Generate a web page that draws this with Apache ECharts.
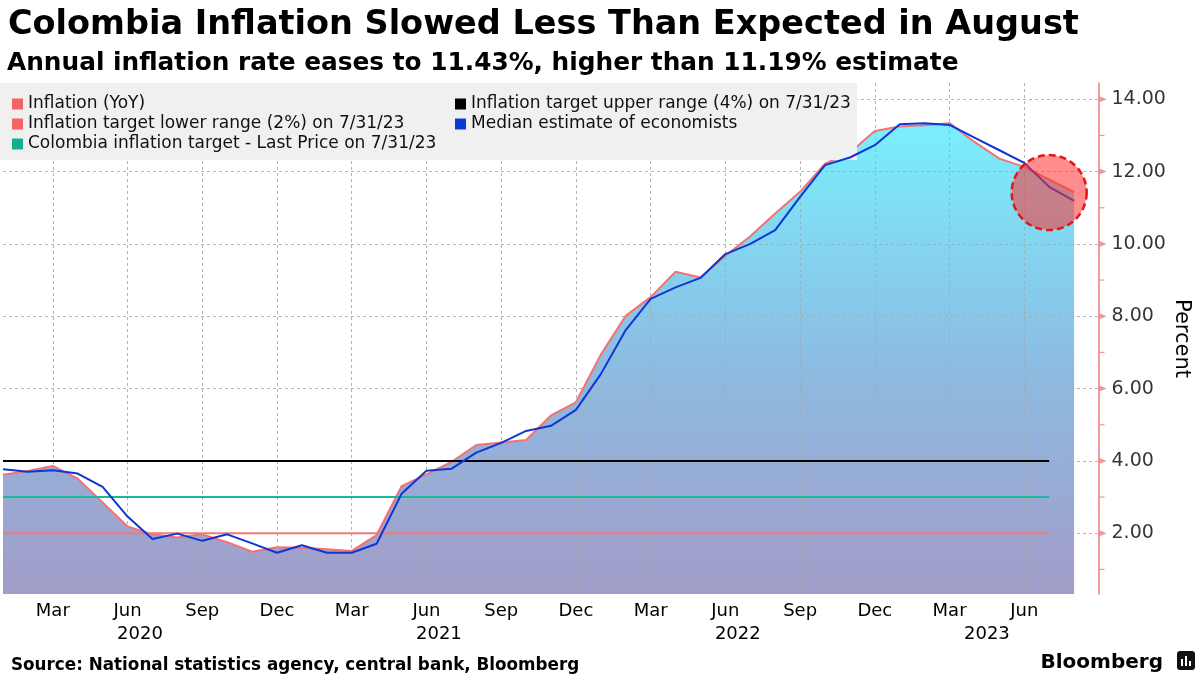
<!DOCTYPE html>
<html>
<head>
<meta charset="utf-8">
<script src="https://cdn.jsdelivr.net/npm/echarts@6/dist/echarts.min.js"></script>
<style>
html,body{margin:0;padding:0;background:#fff;}
#chart{width:1200px;height:675px;}
</style>
</head>
<body>
<div id="chart"></div>
<script>
// ---- Data ----
const months = [
  'Jan 2020','Feb 2020','Mar 2020','Apr 2020','May 2020','Jun 2020','Jul 2020','Aug 2020','Sep 2020','Oct 2020','Nov 2020','Dec 2020',
  'Jan 2021','Feb 2021','Mar 2021','Apr 2021','May 2021','Jun 2021','Jul 2021','Aug 2021','Sep 2021','Oct 2021','Nov 2021','Dec 2021',
  'Jan 2022','Feb 2022','Mar 2022','Apr 2022','May 2022','Jun 2022','Jul 2022','Aug 2022','Sep 2022','Oct 2022','Nov 2022','Dec 2022',
  'Jan 2023','Feb 2023','Mar 2023','Apr 2023','May 2023','Jun 2023','Jul 2023','Aug 2023','Sep 2023'
];
const inflationYoY = [
  3.62,3.72,3.86,3.51,2.85,2.19,1.97,1.88,1.97,1.75,1.49,1.61,
  1.60,1.56,1.51,1.95,3.30,3.63,3.97,4.44,4.51,4.58,5.26,5.62,
  6.94,8.01,8.53,9.23,9.07,9.67,10.21,10.84,11.44,12.22,12.53,13.12,
  13.25,13.28,13.34,12.82,12.36,12.13,11.78,11.43
];
const medianEstimate = [
  3.77,3.70,3.74,3.65,3.28,2.46,1.84,1.99,1.79,1.97,1.72,1.46,
  1.67,1.46,1.46,1.71,3.09,3.73,3.78,4.23,4.50,4.83,4.97,5.41,
  6.40,7.62,8.48,8.80,9.06,9.72,10.00,10.38,11.30,12.18,12.39,12.73,
  13.31,13.34,13.29,12.94,12.59,12.24,11.58,11.19
];
const targetUpper = 4;     // Inflation target upper range (4%)
const targetLower = 2;     // Inflation target lower range (2%)
const targetPoint = 3;     // Colombia inflation target
const targetStart = 'Jan 2020';
const targetEnd = 'Jul 2023';
const highlightMonth = 'Jul 2023';
const highlightValue = 11.42;
const yTicks = [2,4,6,8,10,12,14];
const yMinorTicks = [1,3,5,7,9,11,13];
const quarterMonths = ['Mar','Jun','Sep','Dec'];

// ---- Derived ----
const nData = inflationYoY.length;
const years = [];
months.slice(0, nData).forEach((m, i) => {
  const y = m.slice(4);
  let e = years.find(o => o.year === y);
  if (!e) { e = {year: y, first: i, last: i}; years.push(e); }
  e.last = i;
});
years.forEach(e => e.mid = (e.first + e.last) / 2);

const showQuarter = (i, v) => i < nData && quarterMonths.indexOf(months[i].slice(0,3)) >= 0;
const lastCat = months[months.length - 1];

const FONT = 'DejaVu Sans';
const AXIS_RED = '#f07a7a';
const GRID_LINE = {color: '#a8a8a8', type: [3,3], width: 1, opacity: 0.85};
const chart = echarts.init(document.getElementById('chart'));
chart.setOption({
  animation: false,
  backgroundColor: '#ffffff',
  textStyle: {fontFamily: FONT},
  title: [
    {text: 'Colombia Inflation Slowed Less Than Expected in August', left: 3, top: 3,
     textStyle: {fontFamily: FONT, fontSize: 33.5, fontWeight: 'bold', color: '#000'}},
    {text: 'Annual inflation rate eases to 11.43%, higher than 11.19% estimate', left: 2, top: 46,
     textStyle: {fontFamily: FONT, fontSize: 24.8, fontWeight: 'bold', color: '#000'}},
    {text: 'Source: National statistics agency, central bank, Bloomberg', left: 6, top: 652,
     textStyle: {fontFamily: FONT, fontSize: 16.8, fontWeight: 'bold', color: '#000'}},
    {text: 'Bloomberg', right: 32, top: 648,
     textStyle: {fontFamily: FONT, fontSize: 20, fontWeight: 'bold', color: '#000'}}
  ],
  graphic: [
    {type: 'rect', left: 0, top: 83, shape: {width: 857, height: 77}, style: {fill: '#f0f0f0'}, z: 3},
    {type: 'rect', left: 1177, top: 651, shape: {width: 18, height: 19, r: 3}, style: {fill: '#111'}, z: 5},
    {type: 'rect', left: 1181, top: 659, shape: {width: 2, height: 7}, style: {fill: '#fff'}, z: 6},
    {type: 'rect', left: 1185, top: 656, shape: {width: 2, height: 10}, style: {fill: '#fff'}, z: 6},
    {type: 'rect', left: 1189, top: 661, shape: {width: 2, height: 5}, style: {fill: '#fff'}, z: 6}
  ],
  legend: {
    left: 12, top: 94, width: 900, padding: 0, itemGap: 0,
    itemWidth: 11, itemHeight: 11, icon: 'rect', z: 6,
    textStyle: {fontFamily: FONT, fontSize: 17, color: '#111', width: 427, lineHeight: 20, overflow: 'none'},
    data: ['Inflation (YoY)', 'Inflation target upper range (4%) on 7/31/23',
           'Inflation target lower range (2%) on 7/31/23', 'Median estimate of economists',
           'Colombia inflation target - Last Price on 7/31/23']
  },
  grid: {left: 0, right: 98, top: 83, bottom: 81, containLabel: false},
  xAxis: [
    {
      type: 'category', data: months, boundaryGap: false, z: 1.5,
      axisLine: {show: false}, axisTick: {show: false},
      axisLabel: {interval: showQuarter, formatter: v => v.slice(0,3), margin: 8,
                  fontFamily: FONT, fontSize: 18, color: '#000'},
      splitLine: {show: true, interval: showQuarter, lineStyle: GRID_LINE}
    },
    {
      type: 'value', min: 0, max: months.length - 1, interval: 0.5, position: 'bottom', z: 1.5,
      axisLine: {show: false}, axisTick: {show: false}, splitLine: {show: false},
      axisLabel: {margin: 31, fontFamily: FONT, fontSize: 18, color: '#000',
                  showMinLabel: true, showMaxLabel: true,
                  formatter: v => { const e = years.find(o => Math.abs(o.mid - v) < 1e-6); return e ? e.year : ''; }}
    }
  ],
  yAxis: {
    type: 'value', position: 'right', min: 0.32, max: 14.45, z: 1.5,
    axisLine: {show: true, onZero: false, lineStyle: {color: AXIS_RED, width: 1.5}},
    axisTick: {show: false},
    axisLabel: {show: false},
    splitLine: {show: false},
    name: 'Percent', nameLocation: 'middle', nameRotate: -90, nameGap: 72,
    nameTextStyle: {fontFamily: FONT, fontSize: 21, color: '#000'}
  },
  series: [
    {
      name: 'Inflation (YoY)', type: 'line', data: inflationYoY, z: 1,
      symbol: 'none', lineStyle: {color: '#f47272', width: 2}, itemStyle: {color: '#f46464'},
      areaStyle: {opacity: 1, origin: 'start', color: new echarts.graphic.LinearGradient(0,0,0,1,[
        {offset: 0, color: '#7aeffe'}, {offset: 0.5, color: '#8cbde2'}, {offset: 1, color: '#a29cc8'}])},
      markLine: {
        silent: true, symbol: 'none', label: {show: false}, z: 1.6,
        lineStyle: GRID_LINE,
        data: yTicks.map(v => ({yAxis: v}))
      }
    },
    {
      name: 'Inflation target upper range (4%) on 7/31/23', type: 'line', z: 3,
      data: [[targetStart, targetUpper], [targetEnd, targetUpper]],
      symbol: 'none', lineStyle: {color: '#000', width: 2}, itemStyle: {color: '#000'}
    },
    {
      name: 'Inflation target lower range (2%) on 7/31/23', type: 'line', z: 3,
      data: [[targetStart, targetLower], [targetEnd, targetLower]],
      symbol: 'none', lineStyle: {color: '#f07a7a', width: 2}, itemStyle: {color: '#f46464'}
    },
    {
      name: 'Colombia inflation target - Last Price on 7/31/23', type: 'line', z: 3,
      data: [[targetStart, targetPoint], [targetEnd, targetPoint]],
      symbol: 'none', lineStyle: {color: '#1ab89c', width: 2}, itemStyle: {color: '#16b08c'}
    },
    {
      name: 'Median estimate of economists', type: 'line', data: medianEstimate, z: 4,
      symbol: 'none', lineStyle: {color: '#0c37d4', width: 2}, itemStyle: {color: '#0a3ad6'},
      markPoint: {
        z: 10, silent: true,
        data: [{coord: [highlightMonth, highlightValue], symbol: 'circle', symbolSize: 75,
                itemStyle: {color: 'rgba(255,48,48,0.55)', borderColor: '#e01818', borderWidth: 2.5, borderType: [7,4]},
                label: {show: false}}]
      }
    },
    {
      // major y ticks (arrow marks) with their labels
      type: 'scatter', z: 5, silent: true, symbol: 'triangle', symbolSize: [6, 7], symbolRotate: -90,
      symbolOffset: [4, 0], itemStyle: {color: AXIS_RED}, clip: false,
      data: yTicks.map(v => [lastCat, v]),
      label: {show: true, position: 'right', distance: 5, formatter: p => p.value[1].toFixed(2),
              fontFamily: FONT, fontSize: 19, color: '#000'}
    },
    {
      // minor y ticks
      type: 'scatter', z: 5, silent: true, symbol: 'rect', symbolSize: [5, 1.2],
      symbolOffset: [3, 0], itemStyle: {color: AXIS_RED, opacity: 0.8}, clip: false,
      data: yMinorTicks.map(v => [lastCat, v])
    }
  ]
});
</script>
</body>
</html>
